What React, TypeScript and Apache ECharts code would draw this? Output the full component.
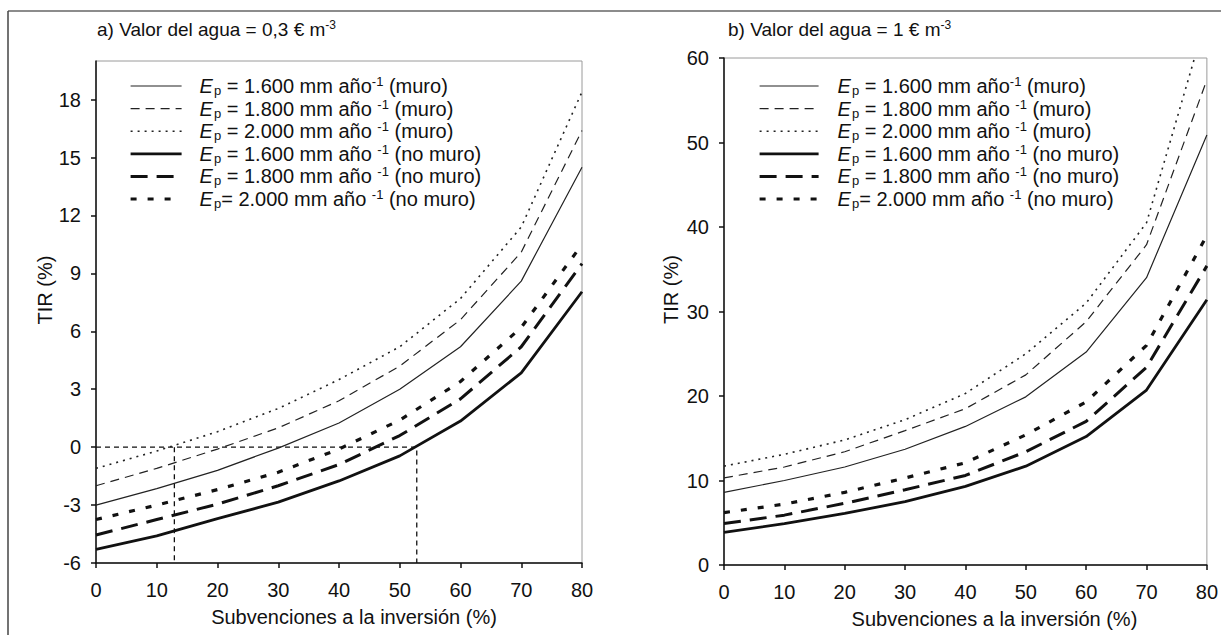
import React, { useEffect, useRef } from 'react';
import * as echarts from 'echarts';

// ---------- data ----------
const subvenciones = [0, 10, 20, 30, 40, 50, 60, 70, 80];

const seriesNames = ['1600 muro', '1800 muro', '2000 muro', '1600 no muro', '1800 no muro', '2000 no muro'];
const epLabels = ['1.600', '1.800', '2.000', '1.600', '1.800', '2.000'];
const wallLabels = ['muro', 'muro', 'muro', 'no muro', 'no muro', 'no muro'];

// a) Valor del agua = 0,3 € m-3
const a1600Muro = [-3.0, -2.15, -1.2, -0.05, 1.25, 3.0, 5.2, 8.6, 14.5];
const a1800Muro = [-2.0, -1.1, -0.1, 1.0, 2.4, 4.2, 6.6, 10.1, 16.4];
const a2000Muro = [-1.1, -0.2, 0.8, 2.0, 3.5, 5.2, 7.7, 11.4, 18.4];
const a1600NoMuro = [-5.3, -4.6, -3.7, -2.85, -1.75, -0.45, 1.35, 3.85, 8.05];
const a1800NoMuro = [-4.55, -3.75, -2.95, -2.0, -0.9, 0.6, 2.5, 5.2, 9.5];
const a2000NoMuro = [-3.75, -3.0, -2.2, -1.3, -0.1, 1.4, 3.4, 6.2, 10.5];

// b) Valor del agua = 1 € m-3
const b1600Muro = [8.6, 10.0, 11.6, 13.7, 16.4, 19.9, 25.2, 34.0, 50.9];
const b1800Muro = [10.3, 11.6, 13.4, 15.9, 18.5, 22.5, 28.8, 37.9, 57.4];
const b2000Muro = [11.7, 13.1, 14.8, 17.2, 20.3, 25.0, 31.0, 40.5, 65.0];
const b1600NoMuro = [3.85, 4.9, 6.1, 7.5, 9.3, 11.7, 15.2, 20.7, 31.4];
const b1800NoMuro = [4.9, 5.9, 7.3, 8.9, 10.6, 13.4, 17.0, 23.4, 35.4];
const b2000NoMuro = [6.2, 7.2, 8.6, 10.3, 12.1, 15.4, 19.3, 26.0, 39.0];

// reference crossings (TIR = 0) in panel a
const refCrossX = [12.9, 52.8];

const xTicks = [0, 10, 20, 30, 40, 50, 60, 70, 80];
const yTicksA = [-6, -3, 0, 3, 6, 9, 12, 15, 18];
const yTicksB = [0, 10, 20, 30, 40, 50, 60];

// ---------- styles ----------
const FONT = '"Liberation Sans", Arial, Helvetica, sans-serif';
const INK = '#111';
const FS = 20;

const lineStyles: any[] = [
  { width: 1.2, type: 'solid', color: '#222' },
  { width: 1.2, type: [9, 6], color: '#222' },
  { width: 1.6, type: [2, 5], color: '#222' },
  { width: 2.8, type: 'solid', color: INK },
  { width: 3, type: [17, 9], color: INK },
  { width: 3.2, type: [6, 11], color: INK },
];

const rich: any = {
  t: { fontSize: FS, fontFamily: FONT, color: INK, fontWeight: 'normal', lineHeight: 23 },
  i: { fontSize: FS, fontFamily: FONT, color: INK, fontWeight: 'normal', fontStyle: 'italic', lineHeight: 23 },
  sub: { fontSize: 13, fontFamily: FONT, color: INK, fontWeight: 'normal', lineHeight: 13, padding: [9, 0, 0, 1] },
  sup: { fontSize: 13, fontFamily: FONT, color: INK, fontWeight: 'normal', lineHeight: 13, padding: [0, 0, 9, 0] },
};

const titleRich: any = {
  t: { fontSize: 19, fontFamily: FONT, color: INK, fontWeight: 'normal', lineHeight: 22 },
  sup: { fontSize: 12, fontFamily: FONT, color: INK, fontWeight: 'normal', lineHeight: 12, padding: [0, 0, 9, 0] },
};

function legendFormatter(name: string) {
  const i = seriesNames.indexOf(name);
  const eqSpace = i === 5 ? '' : ' ';
  const supSpace = i === 0 ? '' : ' ';
  return `{i|E}{sub|p}{t|${eqSpace}= ${epLabels[i]} mm año${supSpace}}{sup|-1}{t| (${wallLabels[i]})}`;
}

function makeAxes(gridIndex: number, yMin: number, yMax: number, yInterval: number, yTicks: number[], nameGapY: number, nameShiftX: number) {
  const axisLine = { show: true, onZero: false, lineStyle: { color: INK, width: 1.5 } };
  const axisTick = { show: true, length: 5, lineStyle: { color: INK, width: 1.5 } };
  const x = {
    gridIndex,
    type: 'value',
    min: 0,
    max: 80,
    interval: 10,
    axisLine,
    axisTick: { ...axisTick, customValues: xTicks },
    axisLabel: { fontSize: FS, fontFamily: FONT, color: INK, margin: 17, customValues: xTicks },
    splitLine: { show: false },
    name: 'Subvenciones a la inversión (%)',
    nameLocation: 'middle',
    nameGap: 44,
    nameTextStyle: { fontSize: FS, fontFamily: FONT, color: INK, padding: [0, 0, 0, nameShiftX] },
  };
  const y = {
    gridIndex,
    type: 'value',
    min: yMin,
    max: yMax,
    interval: yInterval,
    axisLine,
    axisTick: { ...axisTick, customValues: yTicks },
    axisLabel: { fontSize: FS, fontFamily: FONT, color: INK, margin: 15, customValues: yTicks },
    splitLine: { show: false },
    name: 'TIR (%)',
    nameLocation: 'middle',
    nameGap: nameGapY,
    nameRotate: 90,
    nameTextStyle: { fontSize: FS, fontFamily: FONT, color: INK, padding: [0, 0, 0, 44] },
  };
  return { x, y };
}

function makeSeries(gridIndex: number, values: number[][]) {
  return values.map((vals, k) => ({
    name: seriesNames[k],
    type: 'line',
    xAxisIndex: gridIndex,
    yAxisIndex: gridIndex,
    data: subvenciones.map((s, j) => [s, vals[j]]),
    symbol: 'none',
    clip: true,
    color: lineStyles[k].color,
    lineStyle: lineStyles[k],
    z: 3,
  }));
}

export default function App() {
  const ref = useRef<HTMLDivElement>(null);

  useEffect(() => {
    if (!ref.current) return;
    const chart = echarts.init(ref.current, undefined, { renderer: 'svg' });

    const axA = makeAxes(0, -6, 20, 3, yTicksA, 22, 30);
    const axB = makeAxes(1, 0, 60, 10, yTicksB, 43, 58);

    const legendCommon = {
      orient: 'vertical',
      padding: 0,
      itemGap: 0.6,
      itemHeight: 14,
      data: seriesNames,
      selectedMode: false,
      formatter: legendFormatter,
      itemStyle: { opacity: 0 },
      lineStyle: { width: 'inherit' },
    };

    const option: any = {
      animation: false,
      backgroundColor: '#fff',
      title: [
        {
          text: '{t|a) Valor del agua = 0,3 € m}{sup|-3}',
          left: 97,
          top: 18,
          padding: 0,
          textStyle: { rich: titleRich, fontWeight: 'normal' },
        },
        {
          text: '{t|b) Valor del agua = 1 € m}{sup|-3}',
          left: 728,
          top: 18,
          padding: 0,
          textStyle: { rich: titleRich, fontWeight: 'normal' },
        },
      ],
      legend: [
        { ...legendCommon, left: 129, top: 75, itemWidth: 51, textStyle: { rich, padding: [0, 0, 0, 13] } },
        { ...legendCommon, left: 758, top: 75, itemWidth: 59, textStyle: { rich, padding: [0, 0, 0, 14] } },
      ],
      grid: [
        { left: 96, top: 61, width: 486, height: 502, show: true, borderColor: '#9a9a9a', borderWidth: 1, backgroundColor: 'transparent' },
        { left: 724, top: 58, width: 486, height: 507, show: true, borderColor: '#9a9a9a', borderWidth: 1, backgroundColor: 'transparent' },
      ],
      xAxis: [axA.x, axB.x],
      yAxis: [axA.y, axB.y],
      graphic: [
        { type: 'line', shape: { x1: 8, y1: 11, x2: 1221, y2: 11 }, style: { stroke: '#666', lineWidth: 1.5 } },
        { type: 'line', shape: { x1: 8, y1: 11, x2: 8, y2: 635 }, style: { stroke: '#444', lineWidth: 1.5 } },
      ],
      series: [
        ...makeSeries(0, [a1600Muro, a1800Muro, a2000Muro, a1600NoMuro, a1800NoMuro, a2000NoMuro]),
        ...makeSeries(1, [b1600Muro, b1800Muro, b2000Muro, b1600NoMuro, b1800NoMuro, b2000NoMuro]),
        {
          name: 'ref-h',
          type: 'line',
          xAxisIndex: 0,
          yAxisIndex: 0,
          data: [[0, 0], [refCrossX[1], 0], [refCrossX[1], -6]],
          symbol: 'none',
          color: INK,
          lineStyle: { color: INK, width: 1.3, type: [5, 4] },
          z: 2,
        },
        {
          name: 'ref-v',
          type: 'line',
          xAxisIndex: 0,
          yAxisIndex: 0,
          data: [[refCrossX[0], 0], [refCrossX[0], -6]],
          symbol: 'none',
          color: INK,
          lineStyle: { color: INK, width: 1.3, type: [5, 4] },
          z: 2,
        },
      ],
    };

    chart.setOption(option);
    return () => chart.dispose();
  }, []);

  return (
    <div
      ref={ref}
      style={{ position: 'fixed', left: 0, top: 0, width: 1221, height: 635, background: '#fff' }}
    />
  );
}
